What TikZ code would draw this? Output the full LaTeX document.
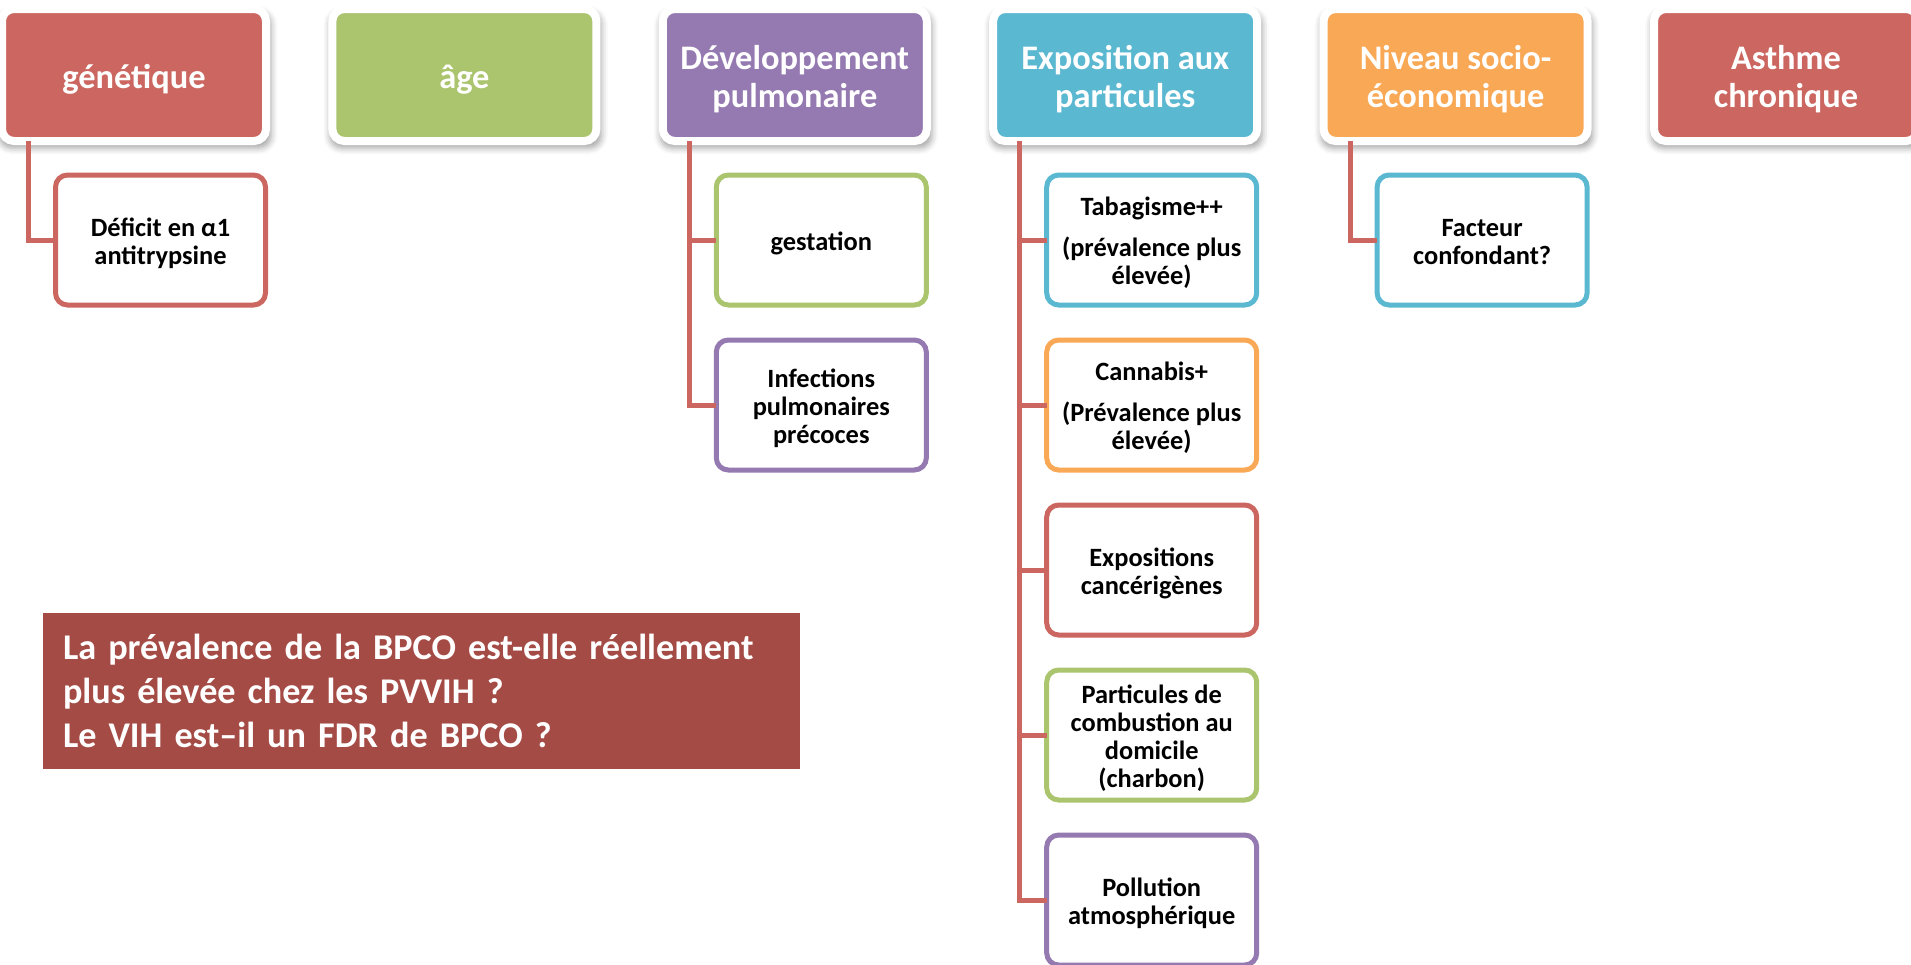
\documentclass[tikz,border=0pt]{standalone}
\usepackage{fontspec}
\setmainfont{Carlito}
\usepackage{tikz}
\usetikzlibrary{positioning, calc, shadows, shadows.blur}
\definecolor{bpcored}{HTML}{CC6660}
\definecolor{bpcogreen}{HTML}{ABC46E}
\definecolor{bpcopurple}{HTML}{957AB1}
\definecolor{bpcocyan}{HTML}{5BB8D1}
\definecolor{bpcoorange}{HTML}{F9A856}
\definecolor{bpcobrick}{HTML}{A54B45}

\begin{document}
\begin{tikzpicture}[
    x=0.5pt, y=-0.5pt,
    topbox/.style={rectangle, rounded corners=6pt, fill=#1, draw=white, line width=4pt,
        minimum width=132pt, minimum height=66pt, inner sep=0pt, outer sep=0pt,
        text width=128pt, align=flush center, text=white, font=\fontsize{17.2pt}{18.9pt}\selectfont\bfseries,
        execute at begin node={\rule{0pt}{1.08em}}, execute at end node={\rule[-0.3em]{0pt}{0pt}},
        blur shadow={shadow xshift=0.6pt, shadow yshift=-2.5pt, shadow scale=1.03,
            shadow blur radius=3pt, shadow opacity=35}},
    subbox/.style={rectangle, rounded corners=6pt, fill=white, draw=#1, line width=2.5pt,
        minimum width=105pt, minimum height=65pt, inner sep=0pt, outer sep=0pt,
        text width=100pt, align=flush center, font=\fontsize{13.2pt}{14pt}\selectfont\bfseries,
        execute at begin node={\rule{0pt}{1.08em}}, execute at end node={\rule[-0.3em]{0pt}{0pt}}},
    link/.style={draw=bpcored, line width=2.5pt},
]
    \useasboundingbox (0,0) rectangle (1911,964);

    % risk factor headers
    \node[topbox=bpcored] (gen) at (134,75) {génétique};
    \node[topbox=bpcogreen] (age) at (464.4,75) {âge};
    \node[topbox=bpcopurple] (dev) at (794.8,75) {Développement\\pulmonaire};
    \node[topbox=bpcocyan] (expo) at (1125.2,75) {Exposition aux\\particules};
    \node[topbox=bpcoorange] (niveau) at (1455.6,75) {Niveau socio-\\économique};
    \node[topbox=bpcored] (asthme) at (1786,75) {Asthme\\chronique};

    % sub factors
    \node[subbox=bpcored] (deficit) at (160.5,240) {Déficit en α1\\antitrypsine};
    \node[subbox=bpcogreen] (gestation) at (821.3,240) {gestation};
    \node[subbox=bpcopurple] (infections) at (821.3,405) {Infections\\pulmonaires\\précoces};
    \node[subbox=bpcocyan] (tabac) at (1151.7,240) {Tabagisme++\\[6.5pt](prévalence plus\\élevée)};
    \node[subbox=bpcoorange] (cannabis) at (1151.7,405) {Cannabis+\\[6.5pt](Prévalence plus\\élevée)};
    \node[subbox=bpcored] (cancero) at (1151.7,570) {Expositions\\cancérigènes};
    \node[subbox=bpcogreen] (combustion) at (1151.7,735) {Particules de\\combustion au\\domicile\\(charbon)};
    \node[subbox=bpcopurple] (pollution) at (1151.7,900) {Pollution\\atmosphérique};
    \node[subbox=bpcocyan] (facteur) at (1482.1,240) {Facteur\\confondant?};

    % links
    \draw[link] ($(gen.south west)+(26.5,0)$) |- (deficit.west);

    \coordinate (devtrunk) at ($(dev.south west)+(26.5,0)$);
    \draw[link] (devtrunk) |- (infections.west);
    \draw[link] (devtrunk |- gestation.west) -- (gestation.west);

    \coordinate (expotrunk) at ($(expo.south west)+(26.5,0)$);
    \draw[link] (expotrunk) |- (pollution.west);
    \draw[link] (expotrunk |- tabac.west) -- (tabac.west);
    \draw[link] (expotrunk |- cannabis.west) -- (cannabis.west);
    \draw[link] (expotrunk |- cancero.west) -- (cancero.west);
    \draw[link] (expotrunk |- combustion.west) -- (combustion.west);

    \draw[link] ($(niveau.south west)+(26.5,0)$) |- (facteur.west);

    % question
    \node[fill=bpcobrick, minimum width=378.5pt, minimum height=78pt, text width=358.5pt,
        inner xsep=10pt, align=left, text=white,
        font=\fontsize{18.1pt}{22pt}\selectfont\bfseries] (question) at (421.5,691)
        {La prévalence de la BPCO est-elle réellement\\plus élevée chez les PVVIH ?\\Le VIH est–il un FDR de BPCO ?};
\end{tikzpicture}
\end{document}
